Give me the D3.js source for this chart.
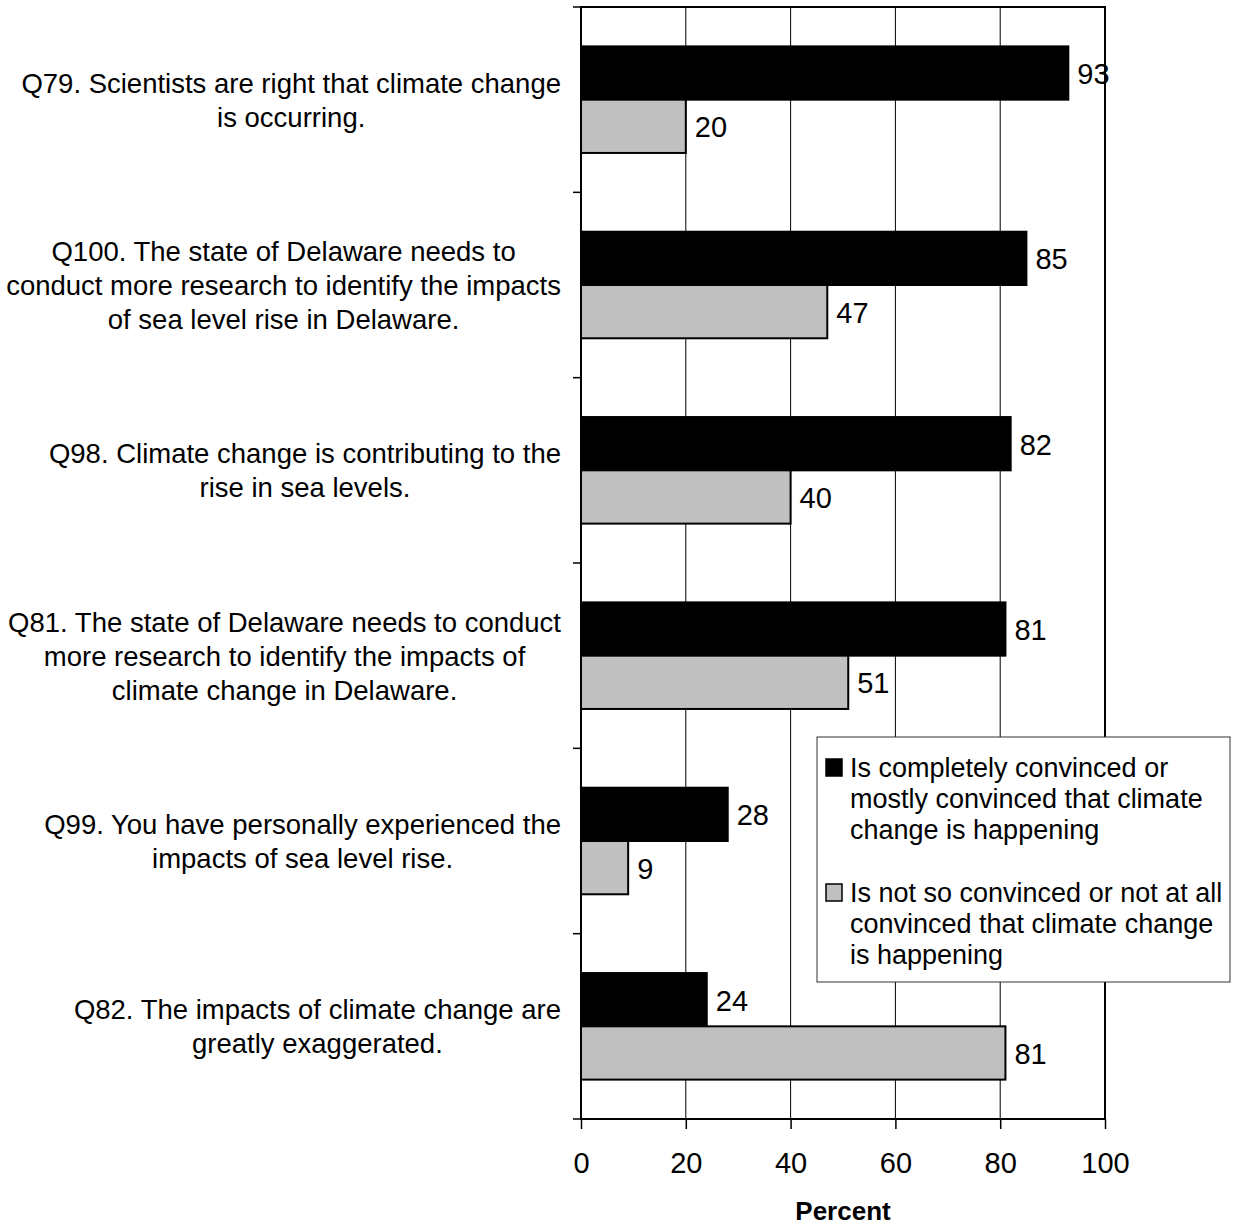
<!DOCTYPE html>
<html>
<head>
<meta charset="utf-8">
<script src="https://cdn.jsdelivr.net/npm/d3@7"></script>
<style>
  body { margin: 0; background: #fff; }
  text { font-family: "Liberation Sans", Arial, sans-serif; fill: #000; }
</style>
</head>
<body>
<div id="chart"></div>
<script>
const questions = [
  ["Q79. Scientists are right that climate change", "is occurring."],
  ["Q100. The state of Delaware needs to", "conduct more research to identify the impacts", "of sea level rise in Delaware."],
  ["Q98. Climate change is contributing to the", "rise in sea levels."],
  ["Q81. The state of Delaware needs to conduct", "more research to identify the impacts of", "climate change in Delaware."],
  ["Q99. You have personally experienced the", "impacts of sea level rise."],
  ["Q82. The impacts of climate change are", "greatly exaggerated."]
];
const convinced = [93, 85, 82, 81, 28, 24];
const notConvinced = [20, 47, 40, 51, 9, 81];
const seriesNames = [
  ["Is completely convinced or", "mostly convinced that climate", "change is happening"],
  ["Is not so convinced or not at all", "convinced that climate change", "is happening"]
];
const seriesColors = ["#000000", "#c0c0c0"];
const xTicks = [0, 20, 40, 60, 80, 100];

const width = 1233;
const height = 1226;
const plotL = 581, plotR = 1105, plotT = 7, plotB = 1119;

const svg = d3.select("#chart")
  .append("svg")
  .attr("width", width)
  .attr("height", height);

const x = d3.scaleLinear().domain([0, 100]).range([plotL, plotR]);
const y = d3.scaleBand().domain(d3.range(questions.length)).range([plotT, plotB]);
const bw = y.bandwidth();
const groupH = bw * 0.575;
const sub = d3.scaleBand().domain([0, 1]).range([(bw - groupH) / 2, (bw + groupH) / 2]);

// gridlines
svg.append("g")
  .selectAll("line")
  .data(xTicks.slice(1, -1))
  .enter().append("line")
  .attr("x1", d => x(d)).attr("x2", d => x(d))
  .attr("y1", plotT).attr("y2", plotB)
  .attr("stroke", "#000")
  .attr("stroke-width", 1);

// bars
const rows = questions.map((q, i) => ({ i, vals: [convinced[i], notConvinced[i]] }));
const grp = svg.append("g").selectAll("g")
  .data(rows)
  .enter().append("g")
  .attr("transform", d => `translate(0,${y(d.i)})`);

grp.selectAll("rect")
  .data(d => d.vals.map((v, s) => ({ v, s })))
  .enter().append("rect")
  .attr("x", x(0))
  .attr("y", d => sub(d.s))
  .attr("width", d => x(d.v) - x(0))
  .attr("height", sub.bandwidth())
  .attr("fill", d => seriesColors[d.s])
  .attr("stroke", "#000")
  .attr("stroke-width", 2);

grp.selectAll("text.val")
  .data(d => d.vals.map((v, s) => ({ v, s })))
  .enter().append("text")
  .attr("class", "val")
  .attr("x", d => x(d.v) + 9)
  .attr("y", d => sub(d.s) + sub.bandwidth() / 2)
  .attr("dy", "0.38em")
  .style("font-size", "29px")
  .text(d => d.v);

// frame
svg.append("rect")
  .attr("x", plotL).attr("y", plotT)
  .attr("width", plotR - plotL).attr("height", plotB - plotT)
  .attr("fill", "none")
  .attr("stroke", "#000")
  .attr("stroke-width", 2);

// left ticks at band edges
svg.append("g")
  .selectAll("line")
  .data(d3.range(questions.length + 1))
  .enter().append("line")
  .attr("x1", plotL - 8).attr("x2", plotL)
  .attr("y1", d => plotT + d * bw).attr("y2", d => plotT + d * bw)
  .attr("stroke", "#000")
  .attr("stroke-width", 1.5);

// x axis
const xAxis = svg.append("g")
  .attr("transform", `translate(0,${plotB})`)
  .call(d3.axisBottom(x).tickValues(xTicks).tickSize(10).tickPadding(23));
xAxis.select(".domain").remove();
xAxis.selectAll("line").attr("stroke-width", 1.5);
xAxis.selectAll("text")
  .style("font-size", "29px")
  .style("font-family", "'Liberation Sans', Arial, sans-serif")
  .attr("fill", "#000");

svg.append("text")
  .attr("x", (plotL + plotR) / 2)
  .attr("y", 1220)
  .attr("text-anchor", "middle")
  .style("font-size", "26px")
  .style("font-weight", "bold")
  .text("Percent");

// category labels, centred lines with right edge at the axis
const lineH = 34;
questions.forEach((lines, i) => {
  const g = svg.append("g");
  const cy = y(i) + bw / 2;
  const t = g.selectAll("text")
    .data(lines)
    .enter().append("text")
    .attr("text-anchor", "middle")
    .attr("y", (d, k) => cy + (k - (lines.length - 1) / 2) * lineH)
    .attr("dy", "0.36em")
    .style("font-size", "27.5px")
    .text(d => d);
  const maxW = d3.max(t.nodes(), n => n.getComputedTextLength());
  t.attr("x", 561 - maxW / 2);
});

// legend
const lg = svg.append("g");
lg.append("rect")
  .attr("x", 817).attr("y", 737)
  .attr("width", 413).attr("height", 245)
  .attr("fill", "#fff")
  .attr("stroke", "#333")
  .attr("stroke-width", 1);
const entryY = [777, 902];
seriesNames.forEach((lines, s) => {
  lg.append("rect")
    .attr("x", 826).attr("y", entryY[s] - 18)
    .attr("width", 16).attr("height", 17)
    .attr("fill", seriesColors[s])
    .attr("stroke", "#000")
    .attr("stroke-width", 1.5);
  lg.selectAll(null)
    .data(lines)
    .enter().append("text")
    .attr("x", 850)
    .attr("y", (d, k) => entryY[s] + k * 31)
    .style("font-size", "27px")
    .text(d => d);
});
</script>
</body>
</html>
